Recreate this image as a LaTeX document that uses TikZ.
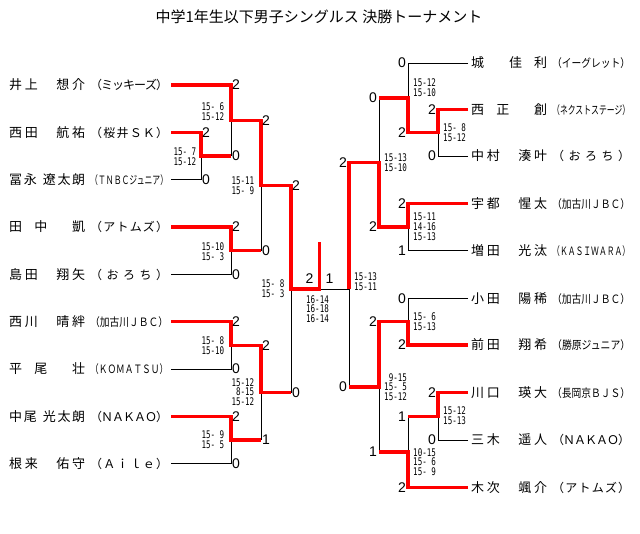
\documentclass[tikz,border=0pt]{standalone}
\usepackage{fontspec}
\usepackage{graphicx}
\setmainfont{Noto Sans CJK JP}
\newfontfamily\digitfont{Liberation Sans}
\newfontfamily\gamefont[FakeStretch=0.72]{DejaVu Sans Mono}
\usetikzlibrary{positioning}

% spread the characters of #2 over a box of width #1
\ExplSyntaxOn
\NewDocumentCommand \spread { m m }
  { \makebox [#1] [s] { \tl_map_inline:nn {#2} { ##1 \hskip 0pt plus 1fil minus 1fil } \unskip } }
\ExplSyntaxOff
\newcommand{\nm}[1]{\spread{76pt}{#1}\hspace{5pt}}
\newcommand{\tmN}[1]{{\fontsize{12}{13}\selectfont\spread{78pt}{#1}}}
\newcommand{\tmS}[1]{{\fontsize{11.5}{12}\selectfont\resizebox{78pt}{\height}{#1}}}

\begin{document}
\begin{tikzpicture}[x=1pt,y=-1pt,
  loss/.style={black, line width=0.9pt},
  win/.style={red, line width=3.4pt},
  player/.style={font=\fontsize{13}{14}\selectfont, inner sep=0pt, anchor=west},
  pts/.style={font=\digitfont\fontsize{14}{14}\selectfont, inner sep=1pt},
  games/.style={font=\gamefont\fontsize{10.5}{9.8}\selectfont, align=right, inner sep=0pt}]
\fill[white] (0,0) rectangle (640,533);
\useasboundingbox (0,0) rectangle (640,533);

\node[font=\fontsize{15}{17}\selectfont] (title) at (319,17) {中学1年生以下男子シングルス 決勝トーナメント};

% left players
\coordinate (p1) at (171,85);
\coordinate (p2) at (171,132.3);
\coordinate (p3) at (171,179.7);
\coordinate (p4) at (171,227);
\coordinate (p5) at (171,274.3);
\coordinate (p6) at (171,321.7);
\coordinate (p7) at (171,369);
\coordinate (p8) at (171,416.3);
\coordinate (p9) at (171,463.5);
% left matches
\coordinate (m1) at (201,156);
\coordinate (m2) at (231,120.5);
\coordinate (m3) at (231,250.6);
\coordinate (m4) at (261,185.6);
\coordinate (m5) at (231,345.3);
\coordinate (m6) at (231,439.9);
\coordinate (m7) at (261,392.6);
\coordinate (m8) at (291,289);
% right players
\coordinate (q1) at (468,63);
\coordinate (q2) at (468,109.3);
\coordinate (q3) at (468,156);
\coordinate (q4) at (468,203.3);
\coordinate (q5) at (468,250.7);
\coordinate (q6) at (468,298.3);
\coordinate (q7) at (468,345);
\coordinate (q8) at (468,392.7);
\coordinate (q9) at (468,440);
\coordinate (q10) at (468,487.3);
% right matches
\coordinate (n1) at (438,132.7);
\coordinate (n2) at (408,97.8);
\coordinate (n3) at (408,227);
\coordinate (n4) at (379,162.4);
\coordinate (n5) at (408,321.7);
\coordinate (n6) at (438,416.3);
\coordinate (n7) at (408,451.8);
\coordinate (n8) at (379,386.8);
\coordinate (n9) at (349,289);
% final
\coordinate (F) at (319.5,289);
\coordinate (champ) at (319.5,242);

% names
\node[player] (pl1) at (9,85) {\nm{井上　想介}\tmN{（ミッキーズ）}};
\node[player] (pl2) at (9,132.3) {\nm{西田　航祐}\tmN{（桜井ＳＫ）}};
\node[player] (pl3) at (9,179.7) {\nm{冨永{\ }遼太朗}\tmS{（ＴＮＢＣジュニア）}};
\node[player] (pl4) at (9,227) {\nm{田　中　　凱}\tmN{（アトムズ）}};
\node[player] (pl5) at (9,274.3) {\nm{島田　翔矢}\tmN{（おろち）}};
\node[player] (pl6) at (9,321.7) {\nm{西川　晴絆}\tmS{（加古川ＪＢＣ）}};
\node[player] (pl7) at (9,369) {\nm{平　尾　　壮}\tmS{（ＫＯＭＡＴＳＵ）}};
\node[player] (pl8) at (9,416.3) {\nm{中尾{\ }光太朗}\tmN{（ＮＡＫＡＯ）}};
\node[player] (pl9) at (9,463.5) {\nm{根来　佑守}\tmN{（Ａｉｌｅ）}};
\node[player] (pr1) at (471,63) {\nm{城　　佳　利}\tmS{（イーグレット）}};
\node[player] (pr2) at (471,109.3) {\nm{西　正　　創}\tmS{（ネクストステージ）}};
\node[player] (pr3) at (471,156) {\nm{中村　湊叶}\tmN{（おろち）}};
\node[player] (pr4) at (471,203.3) {\nm{宇都　惺太}\tmS{（加古川ＪＢＣ）}};
\node[player] (pr5) at (471,250.7) {\nm{増田　光汰}\tmS{（ＫＡＳＩＷＡＲＡ）}};
\node[player] (pr6) at (471,298.3) {\nm{小田　陽稀}\tmS{（加古川ＪＢＣ）}};
\node[player] (pr7) at (471,345) {\nm{前田　翔希}\tmS{（勝原ジュニア）}};
\node[player] (pr8) at (471,392.7) {\nm{川口　瑛大}\tmS{（長岡京ＢＪＳ）}};
\node[player] (pr9) at (471,440) {\nm{三木　遥人}\tmN{（ＮＡＫＡＯ）}};
\node[player] (pr10) at (471,487.3) {\nm{木次　颯介}\tmN{（アトムズ）}};

% lost
\draw[loss] (p3) -| (m1);
\draw[loss] (p5) -| (m3);
\draw[loss] (p7) -| (m5);
\draw[loss] (p9) -| (m6);
\draw[loss] (m1 -| m2) -- (m2);
\draw[loss] (m3 -| m4) -- (m4);
\draw[loss] (m6 -| m7) -- (m7);
\draw[loss] (m7 -| m8) -- (m8);
\draw[loss] (q1) -| (n2);
\draw[loss] (q3) -| (n1);
\draw[loss] (q5) -| (n3);
\draw[loss] (q6) -| (n5);
\draw[loss] (q9) -| (n6);
\draw[loss] (n2 -| n4) -- (n4);
\draw[loss] (n6 -| n7) -- (n7);
\draw[loss] (n7 -| n8) -- (n8);
\draw[loss] (n8 -| n9) -- (n9);
\draw[loss] (n9) -- (F);

% won
\draw[win] (p1) -| (m2) -| (m4) -| (m8) -- (F) -- (champ);
\draw[win] (p2) -| (m1) -- (m1 -| m2);
\draw[win] (p4) -| (m3) -- (m3 -| m4);
\draw[win] (p6) -| (m5) -| (m7) -- (m7 -| m8);
\draw[win] (p8) -| (m6) -- (m6 -| m7);
\draw[win] (q2) -| (n1) -| (n2) -- (n2 -| n4);
\draw[win] (q4) -| (n3) -| (n4) -| (n9);
\draw[win] (q7) -| (n5) -| (n8) -- (n8 -| n9);
\draw[win] (q8) -| (n6) -- (n6 -| n7);
\draw[win] (q10) -| (n7) -- (n7 -| n8);

% points, left
\node[pts, right] (a1) at (p2 -| m1) {2};
\node[pts, right] (b1) at (p3 -| m1) {0};
\node[pts, right] (a2) at (p1 -| m2) {2};
\node[pts, right] (b2) at (m1 -| m2) {0};
\node[pts, right] (a3) at (p4 -| m3) {2};
\node[pts, right] (b3) at (p5 -| m3) {0};
\node[pts, right] (a4) at (m2 -| m4) {2};
\node[pts, right] (b4) at (m3 -| m4) {0};
\node[pts, right] (a5) at (p6 -| m5) {2};
\node[pts, right] (b5) at (p7 -| m5) {0};
\node[pts, right] (a6) at (p8 -| m6) {2};
\node[pts, right] (b6) at (p9 -| m6) {0};
\node[pts, right] (a7) at (m5 -| m7) {2};
\node[pts, right] (b7) at (m6 -| m7) {1};
\node[pts, right] (a8) at (m4 -| m8) {2};
\node[pts, right] (b8) at (m7 -| m8) {0};
% points, final
\node[pts, above left=4pt and 5pt of F] (fa) {2};
\node[pts, above right=4pt and 5pt of F] (fb) {1};
% points, right
\node[pts, left, inner sep=2pt] (c1) at (q2 -| n1) {2};
\node[pts, left, inner sep=2pt] (d1) at (q3 -| n1) {0};
\node[pts, left, inner sep=2pt] (c2) at (q1 -| n2) {0};
\node[pts, left, inner sep=2pt] (d2) at (n1 -| n2) {2};
\node[pts, left, inner sep=2pt] (c3) at (q4 -| n3) {2};
\node[pts, left, inner sep=2pt] (d3) at (q5 -| n3) {1};
\node[pts, left, inner sep=2pt] (c4) at (n2 -| n4) {0};
\node[pts, left, inner sep=2pt] (d4) at (n3 -| n4) {2};
\node[pts, left, inner sep=2pt] (c5) at (q6 -| n5) {0};
\node[pts, left, inner sep=2pt] (d5) at (q7 -| n5) {2};
\node[pts, left, inner sep=2pt] (c6) at (q8 -| n6) {2};
\node[pts, left, inner sep=2pt] (d6) at (q9 -| n6) {0};
\node[pts, left, inner sep=2pt] (c7) at (n6 -| n7) {1};
\node[pts, left, inner sep=2pt] (d7) at (q10 -| n7) {2};
\node[pts, left, inner sep=2pt] (c8) at (n5 -| n8) {2};
\node[pts, left, inner sep=2pt] (d8) at (n7 -| n8) {1};
\node[pts, left, inner sep=2pt] (c9) at (n4 -| n9) {2};
\node[pts, left, inner sep=2pt] (d9) at (n8 -| n9) {0};

% game scores
\node[games, left] (g1) at (196.5,156.5) {15- 7\\15-12};
\node[games, left] (g2) at (224.5,111.5) {15- 6\\15-12};
\node[games, left] (g3) at (224.5,251.5) {15-10\\15- 3};
\node[games, left] (g4) at (254.5,185.5) {15-11\\15- 9};
\node[games, left] (g5) at (224.5,346) {15- 8\\15-10};
\node[games, left] (g6) at (224.5,440) {15- 9\\15- 5};
\node[games, left] (g7) at (254.5,392) {15-12\\8-15\\15-12};
\node[games, left] (g8) at (284.5,289) {15- 8\\15- 3};
\node[games, align=center] (gf) at (317.5,309) {16-14\\16-18\\16-14};
\node[games, right] (h1) at (443,132.5) {15- 8\\15-12};
\node[games, right] (h2) at (413,87.5) {15-12\\15-10};
\node[games, right] (h3) at (413,227) {15-11\\14-16\\15-13};
\node[games, right] (h4) at (384,162.5) {15-13\\15-10};
\node[games, right] (h5) at (413,321.5) {15- 6\\15-13};
\node[games, right] (h6) at (443,416) {15-12\\15-13};
\node[games, right] (h7) at (413,462) {10-15\\15- 6\\15- 9};
\node[games, right] (h8) at (384,387) {9-15\\15- 5\\15-12};
\node[games, right] (h9) at (354,282) {15-13\\15-11};
\end{tikzpicture}
\end{document}
